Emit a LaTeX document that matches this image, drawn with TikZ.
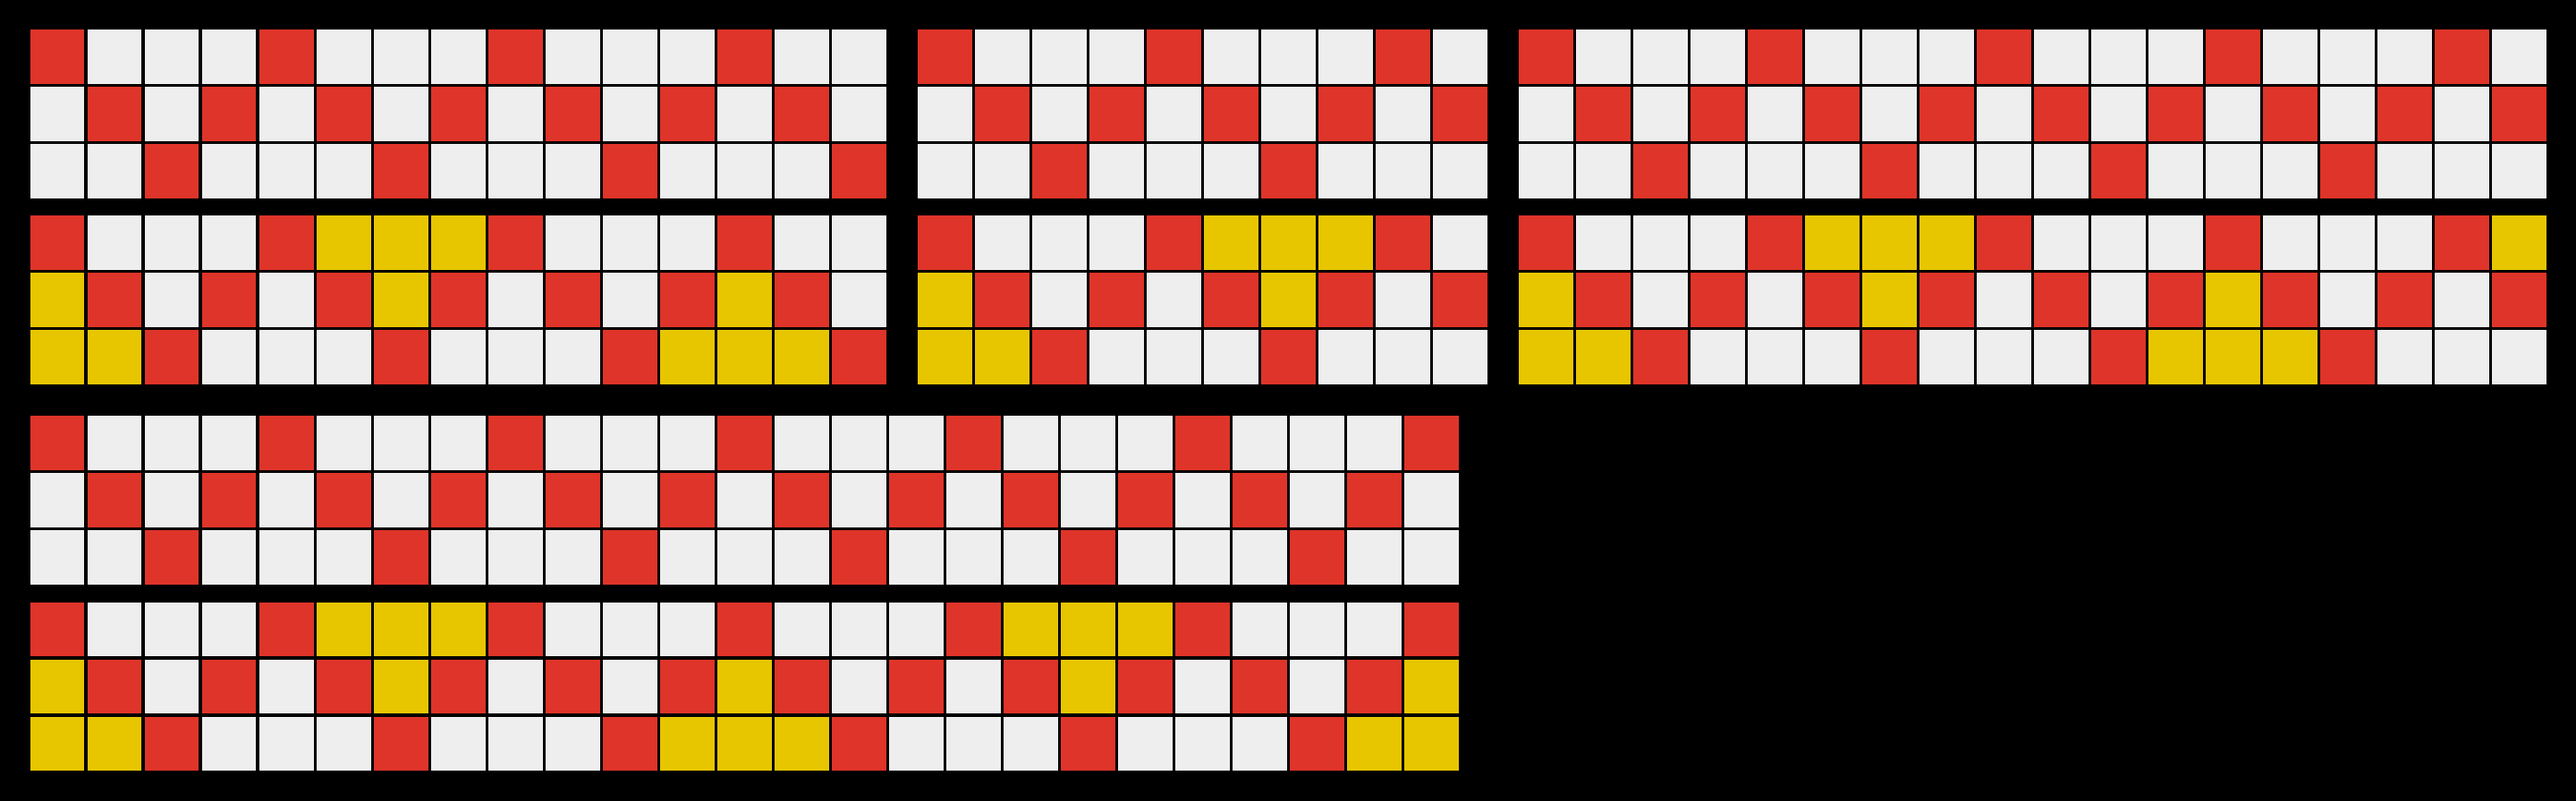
\documentclass[tikz,border=0pt]{standalone}
\usepackage{tikz}

\definecolor{cell0}{RGB}{238,238,238}
\definecolor{cell1}{RGB}{223,52,41}
\definecolor{cell2}{RGB}{231,198,0}

% one strip of three rows: x, top y, number of cells, yellow marks (0/1)
\newcommand{\cellband}[4]{%
\pgfmathtruncatemacro{\lastc}{#3-1}
\foreach \r in {1,2,3} {
  \foreach \c in {0,...,\lastc} {
    \pgfmathtruncatemacro{\k}{(\r==1)*(mod(\c,4)==0)+(\r==2)*(mod(\c,2)==1)+(\r==3)*(mod(\c,4)==2)+2*#4*((\r==1)*(mod(\c,12)>4)*(mod(\c,12)<8)+(\r==2)*(mod(\c,6)==0)+(\r==3)*((mod(\c,12)<2)+(mod(\c,12)==11)))}
    \draw[cell,fill=cell\k] ({#1+\c},{#2-\r}) rectangle ++(1,1);
  }
}}

\begin{document}
\begin{tikzpicture}
\tikzstyle{cell}=[draw=black,line width=0.47mm]
\fill[black] (0,0) rectangle (45,14);
\useasboundingbox (0,0) rectangle (45,14);

\cellband{0.5}{13.5}{15}{0}
\cellband{16}{13.5}{10}{0}
\cellband{26.5}{13.5}{18}{0}

\cellband{0.5}{10.25}{15}{1}
\cellband{16}{10.25}{10}{1}
\cellband{26.5}{10.25}{18}{1}

\cellband{0.5}{6.75}{25}{0}
\cellband{0.5}{3.5}{25}{1}
\end{tikzpicture}
\end{document}
